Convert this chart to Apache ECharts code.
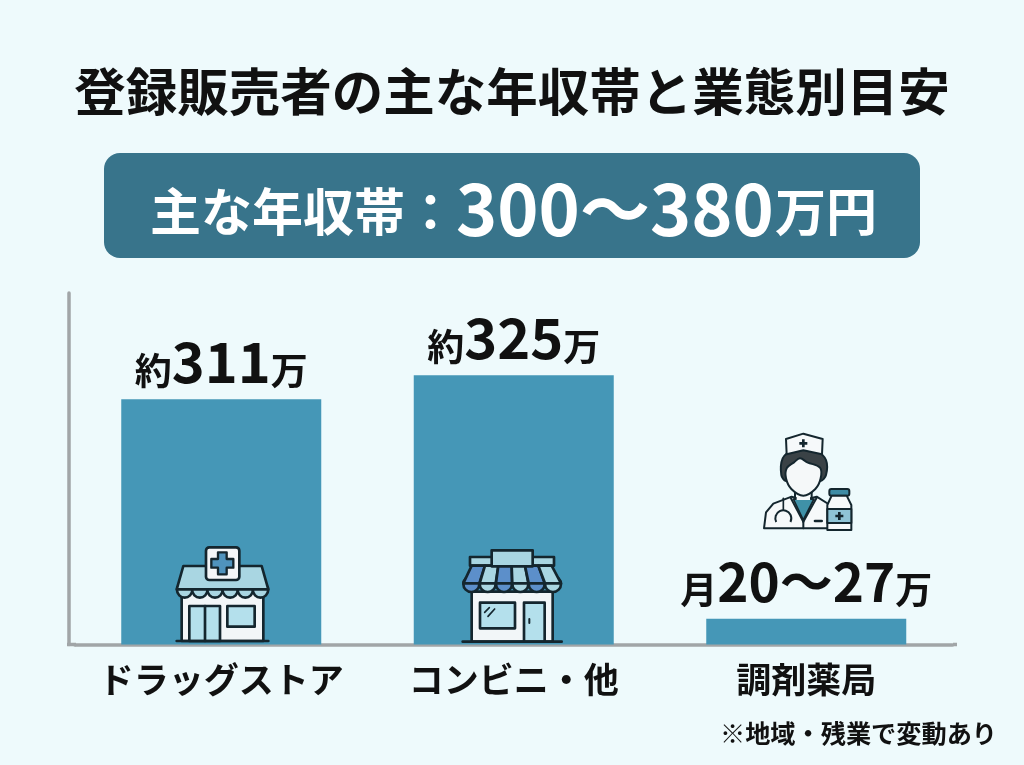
<!DOCTYPE html>
<html><head><meta charset="utf-8">
<style>html,body{margin:0;padding:0;background:#eefafc}#c{width:1024px;height:765px}</style>
<script src="https://cdn.jsdelivr.net/npm/echarts@6/dist/echarts.min.js"></script>
</head><body><div id="c"></div>
<script>
const categories = ['ドラッグストア', 'コンビニ・他', '調剤薬局'];
// bar heights, on a truncated axis
const barValues = [311, 325, 183];
const axisMin = 168, axisMax = 373;
const labelPrefix = ['約', '約', '月'];
const labelNumber = ['311', '325', '20〜27'];
const labelSuffix = ['万', '万', '万'];
const labelNumberStyle = ['b', 'b', 'c'];
const titleText = '登録販売者の主な年収帯と業態別目安';
const bannerLead = '主な年収帯：';
const bannerRange = '300〜380';
const bannerUnit = '万円';
const noteText = '※地域・残業で変動あり';

const FONT = '"Noto Sans CJK JP","Noto Sans",sans-serif';
const INK = '#14262e', W = 8;
const st = (fill, lw) => ({fill: fill, stroke: INK, lineWidth: lw === undefined ? W : lw, lineJoin: 'round', lineCap: 'round'});
const rect = (x, y, w, h, fill, r, lw) => ({type: 'rect', shape: {x, y, width: w, height: h, r: r || 0}, style: st(fill, lw)});
const poly = (pts, fill, lw, smooth) => ({type: 'polygon', shape: {points: pts, smooth: smooth || 0}, style: st(fill, lw)});
const line = (x1, y1, x2, y2, lw) => ({type: 'line', shape: {x1, y1, x2, y2}, style: {stroke: INK, lineWidth: lw || W, lineCap: 'round'}});
const circ = (cx, cy, r, fill, lw) => ({type: 'circle', shape: {cx, cy, r}, style: st(fill, lw)});
const cross = (cx, cy, a, b, fill, lw) => poly([[cx-b,cy-a],[cx+b,cy-a],[cx+b,cy-b],[cx+a,cy-b],[cx+a,cy+b],[cx+b,cy+b],[cx+b,cy+a],[cx-b,cy+a],[cx-b,cy+b],[cx-a,cy+b],[cx-a,cy-b],[cx-b,cy-b]], fill, lw);
const icon = (x, y, children) => ({type: 'group', x, y, scaleX: 1/3, scaleY: 1/3, children});
const onTop = e => { e.z = 10; (e.children || []).forEach(onTop); return e; };

const drugstore = icon(160, 530, [
  rect(65, 185, 245, 148, '#f2f6f8', 0),
  ...[0,1,2,3,4,5].map(i => circ(74 + i*45.5, 180, 23, '#a9d6e2')),
  poly([[70,108],[305,108],[325,178],[50,178]], '#a9d6e2'),
  rect(138, 52, 100, 98, '#f3f6f8', 10),
  cross(187, 100, 33, 13, '#4f93bd', 7),
  rect(88, 228, 92, 105, '#b4e0ec', 0),
  line(135, 228, 135, 333),
  rect(202, 228, 82, 62, '#b4e0ec', 0),
  line(50, 333, 325, 333)
]);
const stripeX0 = [40,89,138,187,236,285], stripeT0 = [65,105,145,185,225,265];
const stripes = [0,1,2,3,4,5].map(i => poly([[stripeT0[i],92],[stripeT0[i]+40,92],[stripeX0[i]+48,145],[stripeX0[i],145]], i % 2 ? '#a9d6e2' : '#5c8fca'));
const conveni = icon(450, 535, [
  rect(65, 170, 243, 150, '#f2f6f8', 0),
  ...[0,1,2,3,4,5].map(i => circ(64 + i*49, 147, 24, i % 2 ? '#a9d6e2' : '#5c8fca')),
  rect(60, 66, 252, 26, '#a9d6e2', 0),
  ...stripes,
  rect(125, 46, 123, 48, '#a9d6e2', 0),
  rect(90, 203, 105, 77, '#b4e0ec', 0),
  line(104, 232, 118, 218, 5), line(114, 244, 134, 222, 5),
  rect(222, 203, 62, 117, '#b4e0ec', 0),
  line(238, 252, 238, 264, 6),
  line(38, 320, 335, 320)
]);
const pharmacist = icon(750, 425, [
  poly([[42,310],[48,262],[70,236],[125,215],[160,225],[200,215],[240,240],[240,310]], '#f6f9fa', 6),
  poly([[130,222],[192,222],[160,285]], '#3f91a8', 5),
  line(122,218,160,290,6), line(200,218,160,290,6), line(160,290,160,310,6),
  line(195,288,215,288,8),
  line(100,220,100,255,5),
  {type:'arc',shape:{cx:100,cy:280,r:24,startAngle:Math.PI*0.85,endAngle:Math.PI*0.15,clockwise:true},style:{stroke:INK,lineWidth:6,fill:'none'}},
  poly([[94,150],[98,100],[125,78],[200,78],[228,105],[228,150],[212,168],[108,168]], '#3a4246', 6, 0.3),
  rect(140, 195, 40, 30, '#f6f9fa', 0, 0),
  line(135,195,135,222,6), line(185,195,185,222,6),
  poly([[110,130],[132,112],[150,100],[172,112],[210,128],[212,160],[196,192],[160,212],[124,192],[108,160]], '#f5f8f9', 6, 0.4),
  poly([[108,42],[160,26],[218,42],[216,88],[160,76],[110,88]], '#f6f9fa', 6),
  cross(160, 55, 12, 4, INK, 0),
  rect(238, 192, 60, 20, '#3f8ca5', 6, 6),
  poly([[245,212],[290,212],[304,240],[304,315],[232,315],[232,240]], '#f6f9fa', 6),
  rect(232, 252, 72, 42, '#8fc4d6', 0, 6),
  cross(268, 273, 12, 4, INK, 0)
]);

const chart = echarts.init(document.getElementById('c'));
chart.setOption({
  animation: false,
  backgroundColor: '#eefafc',
  textStyle: {fontFamily: FONT},
  grid: {left: 75, right: 71.5, top: 293, bottom: 120.5},
  xAxis: {type: 'category', data: categories,
    axisLine: {lineStyle: {color: '#a1a5a7', width: 3.5}}, axisTick: {show: false},
    axisLabel: {fontFamily: FONT, fontSize: 35, fontWeight: 700, color: '#111', margin: 18, interval: 0}},
  yAxis: {type: 'value', min: axisMin, max: axisMax, offset: 6.5, splitLine: {show: false},
    axisLine: {show: true, lineStyle: {color: '#a1a5a7', width: 3.5}}, axisTick: {show: false}, axisLabel: {show: false}},
  series: [{type: 'bar', barWidth: 200, data: barValues, itemStyle: {color: '#4597b7'},
    label: {show: true, position: 'top', distance: 10, fontFamily: FONT, color: '#111',
      formatter: p => '{a|' + labelPrefix[p.dataIndex] + '}{' + labelNumberStyle[p.dataIndex] + '|' + labelNumber[p.dataIndex] + '}{a|' + labelSuffix[p.dataIndex] + '}',
      rich: {a: {fontFamily: FONT, fontSize: 37, fontWeight: 700, color: '#111', verticalAlign: 'bottom'},
             b: {fontFamily: FONT, fontSize: 56, fontWeight: 700, color: '#111', verticalAlign: 'bottom'},
             c: {fontFamily: FONT, fontSize: 53, fontWeight: 700, color: '#111', verticalAlign: 'bottom'}}}}],
  graphic: {elements: [
    {type: 'line', shape: {x1: 67, y1: 644.5, x2: 76, y2: 644.5}, style: {stroke: '#a1a5a7', lineWidth: 3.5}},
    {type: 'line', shape: {x1: 953, y1: 644.5, x2: 957, y2: 644.5}, style: {stroke: '#a1a5a7', lineWidth: 3.5}},
    {type: 'text', x: 512, y: 91, style: {text: titleText, font: '700 51.5px ' + FONT, fill: '#111', align: 'center', verticalAlign: 'middle'}},
    {type: 'rect', shape: {x: 104, y: 153, width: 816, height: 105, r: 16}, style: {fill: '#38748b'}},
    {type: 'text', x: 150, y: 212, style: {text: bannerLead, font: '700 51px ' + FONT, fill: '#fff', align: 'left', verticalAlign: 'middle'}},
    {type: 'text', x: 456, y: 209, style: {text: bannerRange, font: '700 70px ' + FONT, fill: '#fff', align: 'left', verticalAlign: 'middle'}},
    {type: 'text', x: 775, y: 212, style: {text: bannerUnit, font: '700 51px ' + FONT, fill: '#fff', align: 'left', verticalAlign: 'middle'}},
    {type: 'text', x: 997, y: 733, style: {text: noteText, font: '700 25.2px ' + FONT, fill: '#111', align: 'right', verticalAlign: 'middle'}},
    onTop(drugstore), onTop(conveni), onTop(pharmacist)
  ]}
});
</script></body></html>
